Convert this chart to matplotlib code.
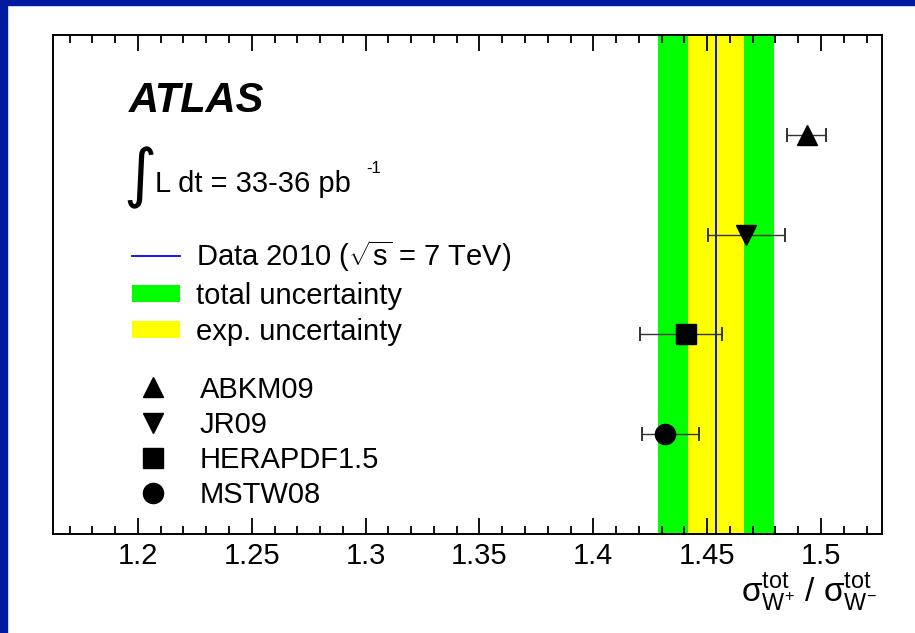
import matplotlib
matplotlib.use('Agg')
from matplotlib import pyplot as plt
from matplotlib.patches import Rectangle

plt.rcParams['font.family'] = ['Liberation Sans', 'DejaVu Sans']
plt.rcParams['mathtext.fontset'] = 'custom'
plt.rcParams['mathtext.rm'] = 'Liberation Sans'
plt.rcParams['mathtext.it'] = 'Liberation Sans:italic'

# measured ratio and its uncertainty bands
data_value = 1.4538
exp_band = (1.4416, 1.4661)
total_band = (1.4284, 1.4794)

# theory predictions (top to bottom)
pdf_names = ['ABKM09', 'JR09', 'HERAPDF1.5', 'MSTW08']
pdf_values = [1.4937, 1.4670, 1.4407, 1.4316]
pdf_err_lo = [0.0088, 0.0168, 0.0202, 0.0100]
pdf_err_hi = [0.0087, 0.0170, 0.0159, 0.0149]
pdf_markers = ['^', 'v', 's', 'o']
pdf_rows = [4, 3, 2, 1]


def main():
    fig = plt.figure(figsize=(9.15, 6.33), dpi=100)
    fig.patch.set_facecolor('white')
    # slide frame (blue strips at top and left)
    fig.patches.append(Rectangle((0, 1 - 5 / 633), 1, 5 / 633, transform=fig.transFigure,
                                 color='#001BA0', zorder=0))
    fig.patches.append(Rectangle((0, 0), 7 / 915, 1, transform=fig.transFigure,
                                 color='#001BA0', zorder=0))

    ax = fig.add_axes([53 / 915, 99 / 633, 829 / 915, 499 / 633])

    tot = ax.axvspan(total_band[0], total_band[1], color='#00FF00', lw=0, label='total uncertainty')
    exp = ax.axvspan(exp_band[0], exp_band[1], color='#FFFF00', lw=0, label='exp. uncertainty')
    dat = ax.axvline(data_value, color='#0000FF', lw=1.3,
                     label=r'Data 2010 ($\sqrt{\mathregular{s}}$ = 7 TeV)')

    ax.errorbar(pdf_values, pdf_rows, xerr=[pdf_err_lo, pdf_err_hi], fmt='none',
                ecolor='#333333', elinewidth=1.0, capsize=4.7, capthick=1.4, zorder=3)
    pdf_handles = []
    for x, y, m, name in zip(pdf_values, pdf_rows, pdf_markers, pdf_names):
        h, = ax.plot([x], [y], m, color='black', ms=14.5, label=name, zorder=4)
        pdf_handles.append(h)

    ax.set_xlim(1.1627, 1.5268)
    ax.set_ylim(0, 5)
    ax.set_yticks([])
    ax.set_xticks([1.2, 1.25, 1.3, 1.35, 1.4, 1.45, 1.5])
    ax.set_xticklabels(['1.2', '1.25', '1.3', '1.35', '1.4', '1.45', '1.5'])
    ax.set_xticks([1.17 + 0.01 * i for i in range(36)], minor=True)
    ax.tick_params(axis='x', which='both', direction='in', top=True, bottom=True,
                   labelsize=21, pad=6, width=1.3, color='black')
    ax.tick_params(axis='x', which='major', length=11.5)
    ax.tick_params(axis='x', which='minor', length=5.5)
    for sp in ax.spines.values():
        sp.set_linewidth(1.4)

    ax.text(0.994, -0.136, r'$\mathregular{\sigma^{tot}_{W^{+}}\ /\ \sigma^{tot}_{W^{-}}}$',
            transform=ax.transAxes, ha='right', va='baseline', fontsize=24)

    ax.text(0.0917, 0.8457, 'ATLAS', transform=ax.transAxes, fontsize=30,
            fontweight='bold', fontstyle='italic', va='baseline')
    ax.text(0.105, 0.713, '\u222b', transform=ax.transAxes, fontsize=46,
            family=['DejaVu Sans'], ha='center', va='center')
    ax.text(0.123, 0.6854, 'L dt = 33-36 pb', transform=ax.transAxes, fontsize=21, va='baseline')
    ax.text(0.3776, 0.7234, '-1', transform=ax.transAxes, fontsize=12, va='baseline')

    leg1 = ax.legend(handles=[dat, tot, exp], loc='upper left', bbox_to_anchor=(0.0953, 0.593),
                     frameon=False, fontsize=21, borderpad=0, borderaxespad=0,
                     handlelength=1.65, handleheight=0.51, handletextpad=0.54,
                     labelspacing=0.28)
    ax.add_artist(leg1)
    ax.legend(handles=pdf_handles, loc='upper left', bbox_to_anchor=(0.0816, 0.3175),
              frameon=False, fontsize=21, borderpad=0, borderaxespad=0,
              handlelength=2.22, handletextpad=0.5, labelspacing=0.25)

    plt.savefig('out.png', dpi=100)
    plt.close()


if __name__ == '__main__':
    main()
